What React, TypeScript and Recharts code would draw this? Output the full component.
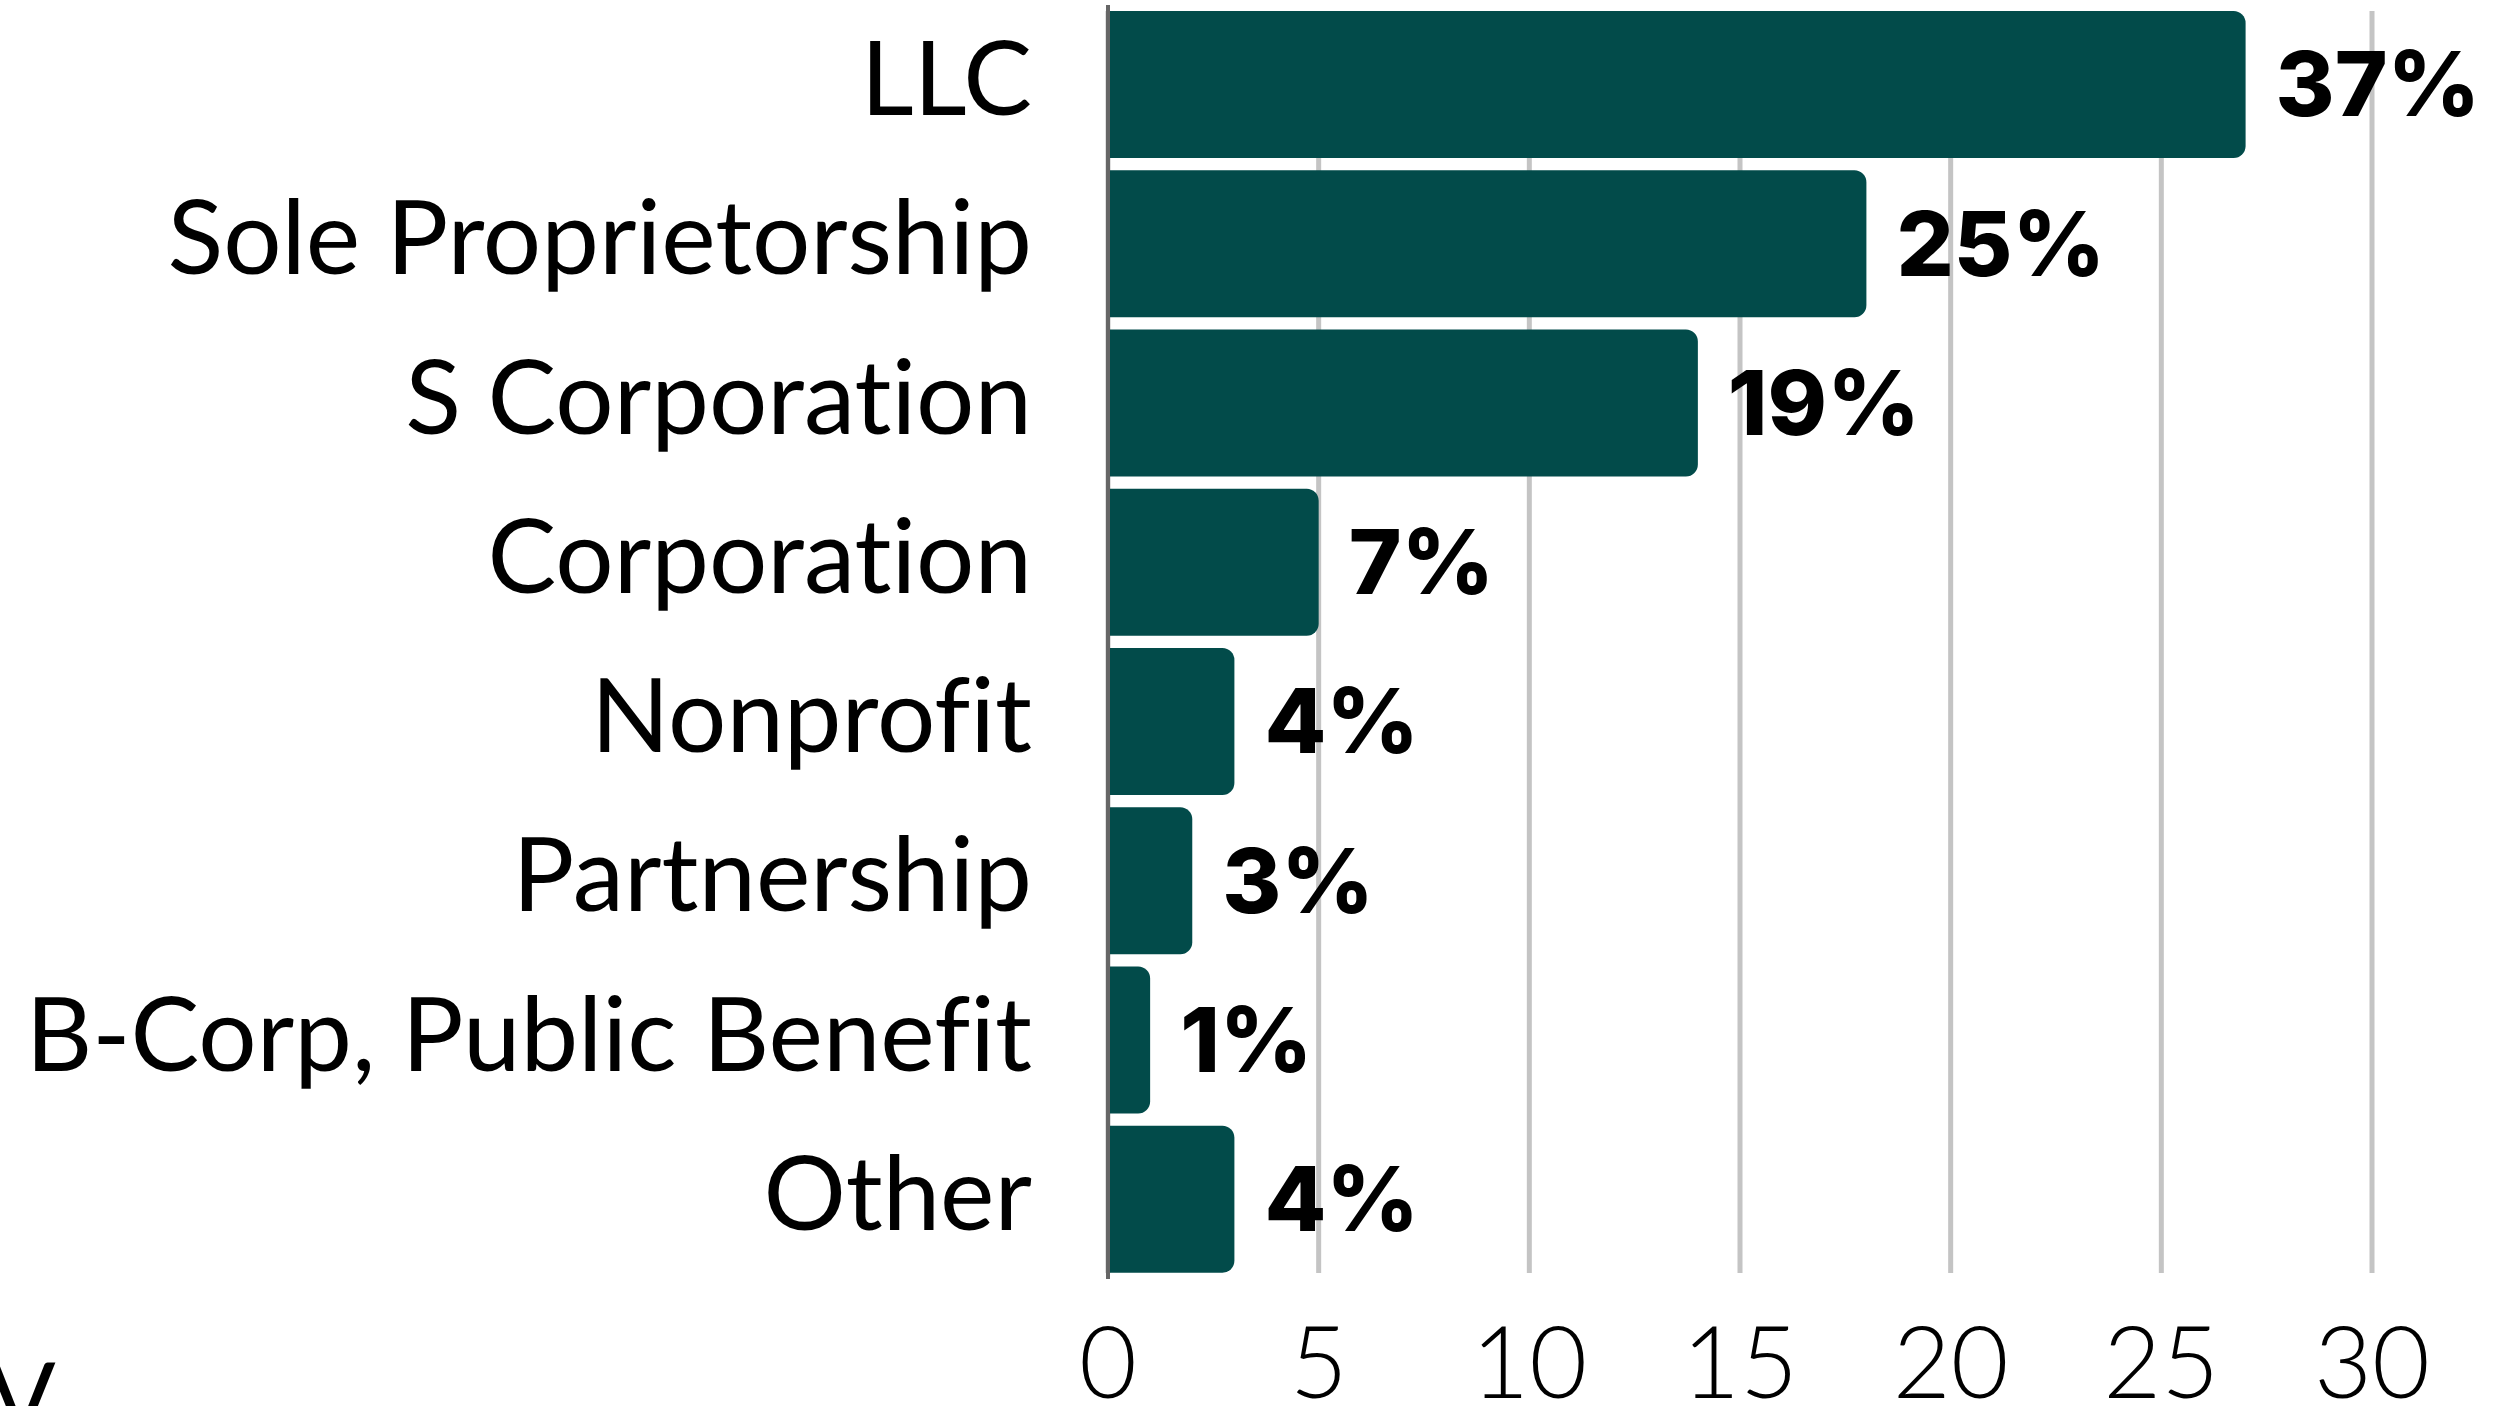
import { Bar, BarChart, CartesianGrid, LabelList, XAxis, YAxis } from "recharts";

const entityTypes = [
  "LLC",
  "Sole Proprietorship",
  "S Corporation",
  "Corporation",
  "Nonprofit",
  "Partnership",
  "B-Corp, Public Benefit",
  "Other",
];
const respondents = [27, 18, 14, 5, 3, 2, 1, 3];
const shareLabels = ["37%", "25%", "19%", "7%", "4%", "3%", "1%", "4%"];
const xTicks = [0, 5, 10, 15, 20, 25, 30];

const data = entityTypes.map((name, i) => ({
  name,
  count: respondents[i],
  share: shareLabels[i],
}));

const BAR = "#024b4a";
const FONT = "Lato, 'Noto Sans', sans-serif";

// category labels sit a few px above the bar centre, like the original
const CategoryTick = (props: any) => {
  const { x, y, payload } = props;
  return (
    <text
      x={x}
      y={y - 6}
      dy="0.355em"
      textAnchor="end"
      fill="#000"
      fontSize={103}
      fontFamily={FONT}
      style={{ fontVariantLigatures: "none" }}
    >
      {payload.value}
    </text>
  );
};

export default function App() {
  return (
    <div
      style={{
        position: "fixed",
        left: 0,
        top: 0,
        width: 2505,
        height: 1406,
        overflow: "hidden",
        background: "#fff",
      }}
    >
      <BarChart
        width={2505}
        height={1406}
        data={data}
        layout="vertical"
        margin={{ top: 5, right: 133, bottom: 0, left: 0 }}
        barCategoryGap={6}
      >
        <CartesianGrid
          horizontal={false}
          stroke="#c4c4c4"
          strokeWidth={5}
          y={11}
          height={1262}
        />
        <XAxis
          type="number"
          domain={[0, 30]}
          ticks={xTicks}
          height={127}
          axisLine={false}
          tickLine={false}
          tickSize={0}
          tickMargin={48}
          tick={{ fill: "#000", fontSize: 100, fontFamily: FONT, fontWeight: 300 }}
        />
        <YAxis
          type="category"
          dataKey="name"
          width={1108}
          axisLine={{ stroke: "#666", strokeWidth: 4 }}
          tickLine={false}
          tickSize={0}
          tickMargin={76}
          interval={0}
          tick={<CategoryTick />}
        />
        <Bar dataKey="count" fill={BAR} radius={[0, 12, 12, 0]} isAnimationActive={false}>
          <LabelList
            dataKey="share"
            position="right"
            offset={30}
            fill="#000"
            style={{ fontSize: 90, fontWeight: 800, fontFamily: "Inter, sans-serif" }}
          />
        </Bar>
      </BarChart>
      <div
        style={{
          position: "absolute",
          left: -12,
          top: 1346,
          fontFamily: FONT,
          fontSize: 100,
          lineHeight: 1,
          fontWeight: 400,
          color: "#000",
        }}
      >
        V
      </div>
    </div>
  );
}
